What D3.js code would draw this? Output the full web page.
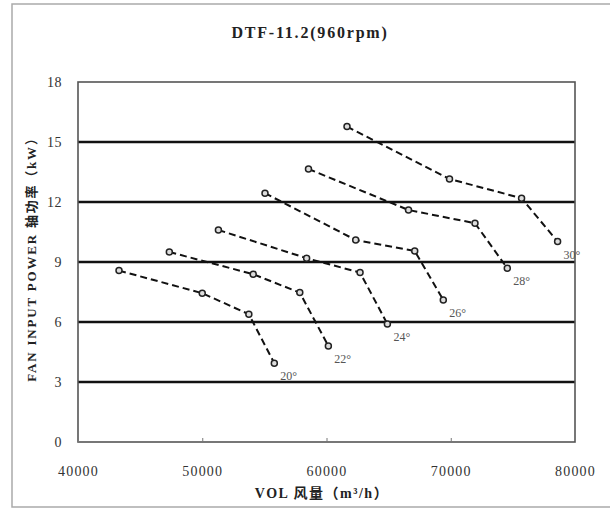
<!DOCTYPE html>
<html><head><meta charset="utf-8">
<script src="https://cdn.jsdelivr.net/npm/d3@7"></script>
<style>body{margin:0;background:#fff}</style>
</head><body>
<svg id="c" width="610" height="510"></svg>
<script>
const title = "DTF-11.2(960rpm)";
const xTicks = [40000, 50000, 60000, 70000, 80000];
const yTicks = [0, 3, 6, 9, 12, 15, 18];
const angles = ["20°", "22°", "24°", "26°", "28°", "30°"];
const flows = [
  [43300, 50000, 53750, 55800],
  [47350, 54100, 57850, 60150],
  [51300, 58400, 62700, 64900],
  [55050, 62350, 67100, 69400],
  [58550, 66600, 71950, 74550],
  [61650, 69900, 75700, 78600]
];
const powers = [
  [8.57, 7.44, 6.39, 3.94],
  [9.50, 8.39, 7.47, 4.80],
  [10.60, 9.19, 8.47, 5.90],
  [12.44, 10.10, 9.55, 7.10],
  [13.65, 11.60, 10.94, 8.69],
  [15.77, 13.15, 12.19, 10.02]
];

const svg = d3.select("#c");
const font = "'Liberation Serif','DejaVu Serif','Noto Sans CJK SC',serif";
const L = 78, R = 575, T = 82, B = 442;
const x = d3.scaleLinear().domain([40000, 80000]).range([L, R]);
const y = d3.scaleLinear().domain([0, 18]).range([B, T]);

// outer frame
svg.append("rect").attr("x", 12).attr("y", 4).attr("width", 610).attr("height", 503)
  .attr("fill", "none").attr("stroke", "#aaa").attr("stroke-width", 1.5);

svg.append("text").attr("x", 310).attr("y", 38).attr("text-anchor", "middle")
  .attr("font-family", font).attr("font-size", 16).attr("font-weight", "bold")
  .attr("letter-spacing", 1.8).attr("fill", "#222").text(title);

// grid lines
svg.append("g").selectAll("line").data(yTicks.filter(d => d > 0 && d < 18)).join("line")
  .attr("x1", L).attr("x2", R).attr("y1", d => y(d)).attr("y2", d => y(d))
  .attr("stroke", "#111").attr("stroke-width", 2.6);

// plot border
svg.append("rect").attr("x", L).attr("y", T).attr("width", R - L).attr("height", B - T)
  .attr("fill", "none").attr("stroke", "#555").attr("stroke-width", 1.6);

// x axis ticks (inner)
const xa = svg.append("g").attr("transform", `translate(0,${B})`)
  .call(d3.axisBottom(x).tickValues(xTicks).tickSizeInner(-4).tickSizeOuter(0).tickPadding(24).tickFormat(d3.format("d")));
xa.select(".domain").remove();
xa.selectAll("line").attr("stroke", "#777");
xa.selectAll("text").attr("font-family", font).attr("font-size", 14).attr("letter-spacing", 1.2).attr("fill", "#333");

// y axis labels
const ya = svg.append("g").attr("transform", `translate(${L},0)`)
  .call(d3.axisLeft(y).tickValues(yTicks).tickSize(0).tickPadding(16));
ya.select(".domain").remove();
ya.selectAll("text").attr("font-family", font).attr("font-size", 14).attr("letter-spacing", 0.5).attr("fill", "#333");

svg.append("text").attr("x", 322).attr("y", 498).attr("text-anchor", "middle")
  .attr("font-family", font).attr("font-size", 14).attr("font-weight", "bold").attr("fill", "#222")
  .attr("letter-spacing", 1.5)
  .text("VOL 风量（m³/h）");

svg.append("text").attr("transform", `translate(36,${(T + B) / 2 - 6}) rotate(-90)`)
  .attr("text-anchor", "middle").attr("font-family", font).attr("font-size", 13)
  .attr("font-weight", "bold").attr("fill", "#222").attr("letter-spacing", 1.8)
  .text("FAN INPUT POWER 轴功率（kW）");

const line = d3.line().x(d => x(d[0])).y(d => y(d[1]));
angles.forEach((a, i) => {
  const pts = flows[i].map((f, j) => [f, powers[i][j]]);
  svg.append("path").datum(pts).attr("d", line).attr("fill", "none")
    .attr("stroke", "#111").attr("stroke-width", 2).attr("stroke-dasharray", "7,4");
  svg.append("g").selectAll("circle").data(pts).join("circle")
    .attr("cx", d => x(d[0])).attr("cy", d => y(d[1])).attr("r", 3)
    .attr("fill", "#ddd").attr("stroke", "#222").attr("stroke-width", 1.5);
  const last = pts[pts.length - 1];
  svg.append("text").attr("x", x(last[0]) + 6).attr("y", y(last[1]) + 17)
    .attr("font-family", font).attr("font-size", 12).attr("fill", "#555").text(a);
});
</script>
</body></html>
